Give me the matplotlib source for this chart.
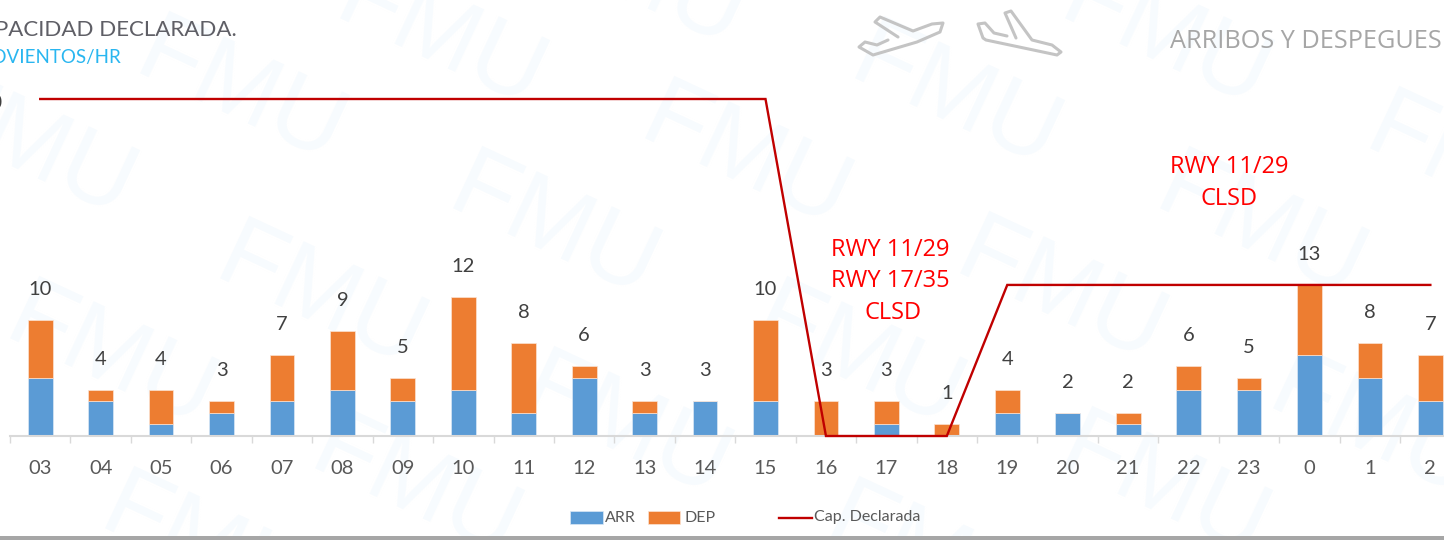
import matplotlib
matplotlib.use('Agg')
import matplotlib.pyplot as plt
from matplotlib.patches import Rectangle
import numpy as np

W, H = 1444, 540

hours = ['03', '04', '05', '06', '07', '08', '09', '10', '11', '12', '13', '14',
         '15', '16', '17', '18', '19', '20', '21', '22', '23', '0', '1', '2']
arr = [5, 3, 1, 2, 3, 4, 3, 4, 2, 5, 2, 3, 3, 0, 1, 0, 2, 2, 1, 4, 4, 7, 5, 3]
dep = [5, 1, 3, 1, 4, 5, 2, 8, 6, 1, 1, 0, 7, 3, 2, 1, 2, 0, 1, 2, 1, 6, 3, 4]
cap = [29, 29, 29, 29, 29, 29, 29, 29, 29, 29, 29, 29, 29,
       0, 0, 0, 13, 13, 13, 13, 13, 13, 13, 13]

wm_x = [30, 240, 440, 640, 553, 745, 955, 1165, 320, 110, 625, 858, 1060, 1260, 1470, 415, 1163, 1373, 930, 205]
wm_y = [150, 95, 40, -20, 230, 160, 100, 40, 300, 360, 430, 360, 295, 230, 170, 490, 490, 430, 560, 550]

label_font = ['Lato', 'DejaVu Sans']
geo = ['Lato', 'DejaVu Sans']
open_sans = ['Open Sans', 'DejaVu Sans']

fig = plt.figure(figsize=(W / 100, H / 100), dpi=100)
bg = fig.add_axes([0, 0, 1, 1])
bg.set_xlim(0, W)
bg.set_ylim(H, 0)
bg.axis('off')

for x, y in zip(wm_x, wm_y):
    bg.text(x, y, 'FMU', fontsize=72, color='#f7fbfe', rotation=-25,
            rotation_mode='anchor', ha='center', va='center', family=['Liberation Sans'], zorder=1)

# left edge of axis at px 10, each category is 60.44 px wide
ax = fig.add_axes([10 / W, (H - 436) / H, 60.44 * 24 / W, 337 / H])
ax.patch.set_alpha(0)
x = np.arange(len(hours))
ax.bar(x, arr, width=0.41, color='#5b9bd5', edgecolor='#dbe8f5', linewidth=0.5, label='ARR')
ax.bar(x, dep, width=0.41, bottom=arr, color='#ed7d31', edgecolor='#fbe3d3', linewidth=0.5, label='DEP')
ax.plot(x, cap, color='#c00000', lw=1.7, solid_joinstyle='miter', clip_on=False, zorder=5, label='Cap. Declarada')
ax.set_xlim(-0.5, 23.5)
ax.set_ylim(0, 29)
for s in ['top', 'left', 'right']:
    ax.spines[s].set_visible(False)
ax.spines['bottom'].set_color('#d9d9d9')
ax.spines['bottom'].set_linewidth(1.5)
ax.yaxis.set_visible(False)
ax.set_xticks(np.arange(-0.5, 24), minor=True)
ax.set_xticks(x)
ax.set_xticklabels(hours, fontsize=14.5, color='#595959', family=label_font)
ax.tick_params(axis='x', which='major', length=0, pad=17.5)
ax.tick_params(axis='x', which='minor', length=5, color='#d9d9d9', width=1)

for i in range(len(hours)):
    total = arr[i] + dep[i]
    ax.annotate(str(total), (x[i], total), xytext=(0, 22), textcoords='offset pixels',
                ha='center', va='bottom', fontsize=14.5, color='#404040', family=label_font)

# legend by hand, laid out as in the source slide
bg.add_patch(Rectangle((570, 511), 33, 13, fc='#5b9bd5', ec='#dbe8f5', lw=0.5, zorder=3))
bg.text(605, 517.5, 'ARR', fontsize=11.5, color='#595959', va='center', family=label_font, zorder=3)
bg.add_patch(Rectangle((648, 511), 32, 13, fc='#ed7d31', ec='#fbe3d3', lw=0.5, zorder=3))
bg.text(685, 517.5, 'DEP', fontsize=11.5, color='#595959', va='center', family=label_font, zorder=3)
bg.plot([779, 812], [518, 518], color='#c00000', lw=1.7, zorder=3)
bg.text(814, 517.5, 'Cap. Declarada', fontsize=11.5, color='#595959', va='center', family=label_font, zorder=3)

red = '#ff0000'
ann = [(890, 250, 'RWY 11/29'), (890, 281, 'RWY 17/35'), (893, 313, 'CLSD'),
       (1229, 167, 'RWY 11/29'), (1229, 199, 'CLSD')]
for px, py, t in ann:
    bg.text(px, py, t, fontsize=17, color=red, ha='center', va='center', family=open_sans, zorder=3)

bg.text(-35, 30, 'CAPACIDAD DECLARADA.', fontsize=16, color='#5f5f66', va='center', family=geo, zorder=3)
bg.text(-26, 57, 'MOVIENTOS/HR', fontsize=13.5, color='#29b6f0', va='center', family=geo, zorder=3)
bg.text(1442, 41, 'ARRIBOS Y DESPEGUES', fontsize=18.2, color='#a6a6a6', ha='right', va='center',
        family=open_sans, zorder=3)
bg.text(2, 103, '0', fontsize=15, color='#404040', ha='right', va='center', family=label_font, zorder=3)

# plane outlines, left open where the wing meets the body
plane1 = [(898, 37), (875, 22), (880, 17), (913, 31), (932, 24), (943, 23), (940, 32), (917, 42),
          (873, 55), (859, 47), (865, 42), (877, 45), (888, 40)]
plane2 = [(1016, 38), (1005, 13), (1011, 11), (1032, 40), (1052, 45), (1061, 52), (1057, 55),
          (986, 40), (983, 38), (978, 24), (985, 23), (994, 33), (1007, 36)]
for pts in [plane1, plane2]:
    px, py = zip(*pts)
    bg.plot(px, py, color='#c4c4c4', lw=2.2, solid_joinstyle='round', solid_capstyle='round', zorder=3)

# grey strip along the bottom of the slide
bg.add_patch(Rectangle((0, 536), W, 4, fc='#a6a6a6', ec='none', zorder=4))

fig.savefig('out.png', dpi=100)
